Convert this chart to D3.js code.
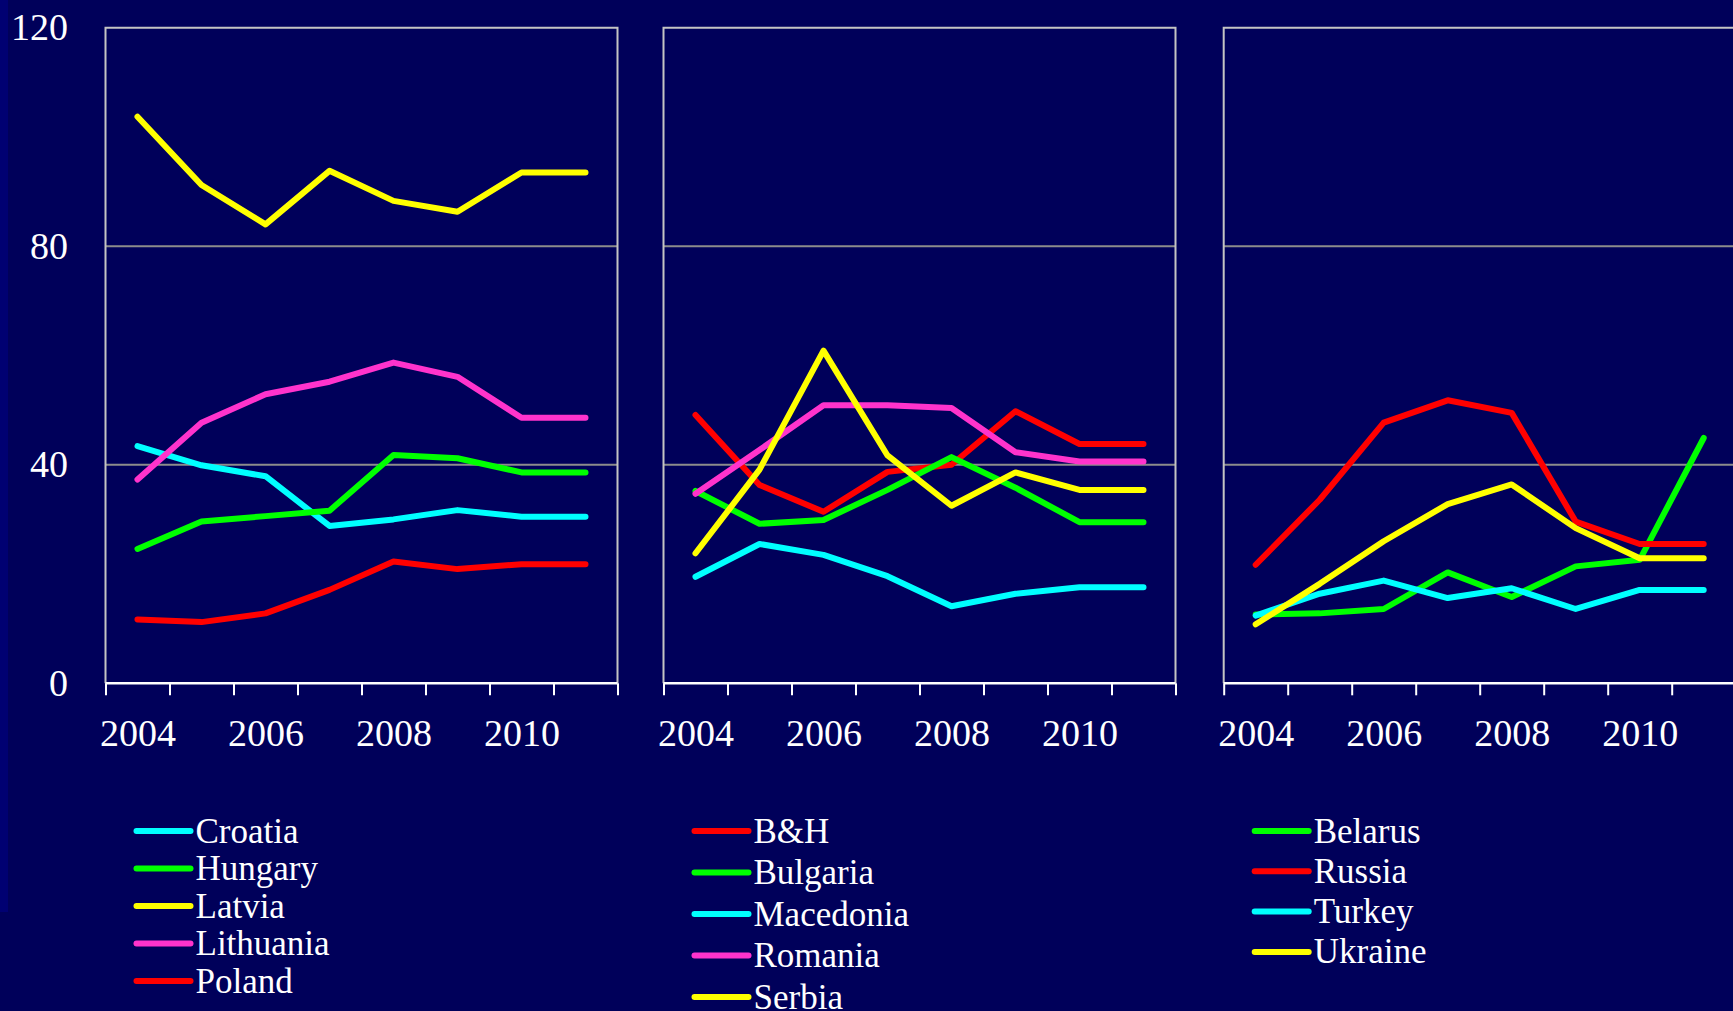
<!DOCTYPE html>
<html>
<head>
  <meta charset="utf-8">
  <script src="https://cdnjs.cloudflare.com/ajax/libs/d3/7.8.5/d3.min.js"></script>
  <title>Three panels</title>
  <style>
    body { margin: 0; background: #00005a; }
    text { font-family: "Liberation Serif", "DejaVu Serif", serif; fill: #fff; }
    .domain { display: none; }
  </style>
</head>
<body>
<script>
// years on the x axis, label every other one
var years = [2004, 2005, 2006, 2007, 2008, 2009, 2010, 2011];
var yearLabels = [2004, 2006, 2008, 2010];
var yTicks = [0, 40, 80, 120];

// panel 1
var croatia   = [43.4, 39.9, 37.9, 28.8, 30.0, 31.7, 30.5, 30.5];
var hungary   = [24.6, 29.6, 30.6, 31.6, 41.8, 41.2, 38.6, 38.6];
var latvia    = [103.7, 91.2, 84.0, 93.8, 88.3, 86.3, 93.5, 93.5];
var lithuania = [37.3, 47.7, 52.9, 55.2, 58.7, 56.1, 48.6, 48.6];
var poland    = [11.7, 11.2, 12.8, 17.1, 22.3, 20.9, 21.8, 21.8];

// panel 2
var bh        = [49.1, 36.3, 31.4, 38.7, 40.0, 49.8, 43.8, 43.8];
var bulgaria  = [35.2, 29.2, 29.9, 35.4, 41.4, 35.8, 29.5, 29.5];
var macedonia = [19.5, 25.5, 23.5, 19.6, 14.1, 16.4, 17.6, 17.6];
var romania   = [34.7, 42.7, 50.9, 50.9, 50.4, 42.3, 40.6, 40.6];
var serbia    = [23.8, 39.1, 60.9, 41.7, 32.5, 38.6, 35.4, 35.4];

// panel 3
var belarus   = [12.6, 12.8, 13.6, 20.3, 15.8, 21.4, 22.6, 44.9];
var russia    = [21.7, 33.6, 47.7, 51.8, 49.5, 29.6, 25.5, 25.5];
var turkey    = [12.4, 16.4, 18.8, 15.6, 17.4, 13.6, 17.1, 17.1];
var ukraine   = [10.8, 18.2, 26.0, 32.8, 36.4, 28.4, 22.9, 22.9];

var CYAN = "#00ffff", GREEN = "#00ff00", YELLOW = "#ffff00", PINK = "#ff33cc", RED = "#ff0000";

var panels = [
  { left: 105.5, showY: true, legendGap: 37.5, series: [
    {name: "Croatia", values: croatia, color: CYAN},
    {name: "Hungary", values: hungary, color: GREEN},
    {name: "Latvia", values: latvia, color: YELLOW},
    {name: "Lithuania", values: lithuania, color: PINK},
    {name: "Poland", values: poland, color: RED}]},
  { left: 663.5, showY: false, legendGap: 41.5, series: [
    {name: "B&H", values: bh, color: RED},
    {name: "Bulgaria", values: bulgaria, color: GREEN},
    {name: "Macedonia", values: macedonia, color: CYAN},
    {name: "Romania", values: romania, color: PINK},
    {name: "Serbia", values: serbia, color: YELLOW}]},
  { left: 1223.7, showY: false, legendGap: 40.3, series: [
    {name: "Belarus", values: belarus, color: GREEN},
    {name: "Russia", values: russia, color: RED},
    {name: "Turkey", values: turkey, color: CYAN},
    {name: "Ukraine", values: ukraine, color: YELLOW}]}
];

var W = 512, plotTop = 27.7, plotBottom = 683.3;

var svg = d3.select("body").append("svg")
    .attr("width", 1733)
    .attr("height", 1011);

svg.append("rect").attr("width", 1733).attr("height", 1011).attr("fill", "#00005a");
// slightly lighter strip on the left edge
svg.append("rect").attr("width", 8).attr("height", 912).attr("fill", "#000072");

var y = d3.scaleLinear().domain([0, 120]).range([plotBottom, plotTop]);

panels.forEach(function(p) {
  var x = d3.scaleLinear().domain([2003.5, 2011.5]).range([p.left, p.left + W]);
  var g = svg.append("g");

  // gridlines
  g.selectAll("line.grid")
    .data([40, 80])
    .enter().append("line")
    .attr("x1", p.left).attr("x2", p.left + W)
    .attr("y1", function(d) { return y(d); })
    .attr("y2", function(d) { return y(d); })
    .attr("stroke", "#8c8c8c").attr("stroke-width", 2);

  // box: top, left, right
  g.append("path")
    .attr("d", "M" + p.left + "," + y(0) + "V" + y(120) + "H" + (p.left + W) + "V" + y(0))
    .attr("fill", "none").attr("stroke", "#c4c4c4").attr("stroke-width", 2);

  // x axis ticks at year boundaries
  var tickAxis = d3.axisBottom(x)
      .tickValues(d3.range(2003.5, 2012, 1))
      .tickSize(12)
      .tickFormat("");
  g.append("g")
    .attr("transform", "translate(0," + y(0) + ")")
    .call(tickAxis)
    .call(function(a) { a.selectAll("line").attr("stroke", "#fff").attr("stroke-width", 2); });
  g.append("line")
    .attr("x1", p.left).attr("x2", p.left + W)
    .attr("y1", y(0)).attr("y2", y(0))
    .attr("stroke", "#fff").attr("stroke-width", 2.5);

  // year labels
  var labelAxis = d3.axisBottom(x)
      .tickValues(yearLabels)
      .tickSize(0)
      .tickFormat(d3.format("d"));
  g.append("g")
    .attr("transform", "translate(0," + y(0) + ")")
    .call(labelAxis)
    .call(function(a) {
      a.selectAll("text").attr("y", 36).attr("font-size", 38).attr("fill", "#fff")
        .style("font-family", "'Liberation Serif', serif");
    });

  if (p.showY) {
    var yAxis = d3.axisLeft(y).tickValues(yTicks).tickSize(0).tickPadding(37.5);
    g.append("g")
      .attr("transform", "translate(" + p.left + ",0)")
      .call(yAxis)
      .call(function(a) {
        a.selectAll("text").attr("font-size", 38).attr("fill", "#fff")
          .style("font-family", "'Liberation Serif', serif");
      });
  }

  var line = d3.line()
      .x(function(d, i) { return x(years[i]); })
      .y(function(d) { return y(d); });

  g.selectAll("path.series")
    .data(p.series)
    .enter().append("path")
    .attr("class", "series")
    .attr("d", function(s) { return line(s.values); })
    .attr("fill", "none")
    .attr("stroke", function(s) { return s.color; })
    .attr("stroke-width", 6)
    .attr("stroke-linejoin", "round")
    .attr("stroke-linecap", "round");

  // legend
  var lg = g.selectAll("g.legend")
    .data(p.series)
    .enter().append("g")
    .attr("transform", function(s, i) { return "translate(" + (p.left + 31) + "," + (831 + i * p.legendGap) + ")"; });
  lg.append("line")
    .attr("x1", 0).attr("x2", 54)
    .attr("stroke", function(s) { return s.color; })
    .attr("stroke-width", 6)
    .attr("stroke-linecap", "round");
  lg.append("text")
    .attr("x", 59)
    .attr("y", 11.5)
    .attr("font-size", 35)
    .text(function(s) { return s.name; });
});
</script>
</body>
</html>
